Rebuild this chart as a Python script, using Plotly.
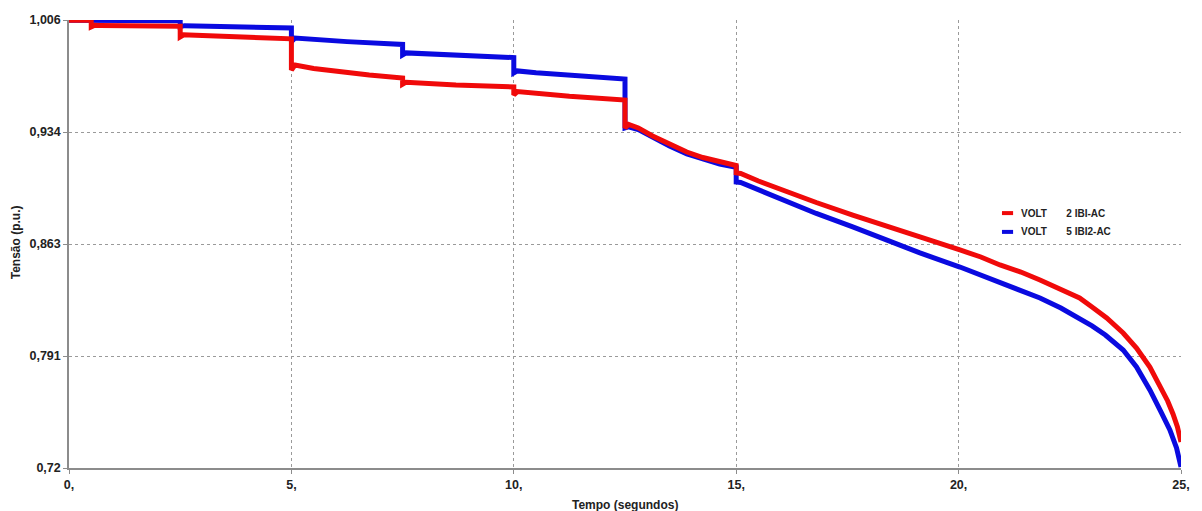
import plotly.graph_objects as go

# Voltage traces (p.u.) versus simulation time (s)
t_ibi = [0, 0.5, 0.5, 0.58, 0.7, 2.5, 2.5, 2.58, 2.7, 5.0, 5.0, 5.08, 5.5, 6.0, 6.75,
         7.5, 7.5, 7.58, 8.7, 10.0, 10.0, 10.08, 10.5, 11.25, 12.5, 12.5, 12.58, 12.8,
         13.12, 13.5, 13.89, 14.25, 14.63, 15.0, 15.0, 15.1, 15.5, 16.14, 16.8, 17.62,
         18.4, 19.13, 20.03, 20.5, 20.93, 21.4, 21.83, 22.3, 22.72, 23.0, 23.33, 23.7,
         24.0, 24.3, 24.53, 24.7, 24.82, 24.92, 25.0]
v_ibi = [1.0058, 1.0058, 1.0016, 1.0026, 1.0025, 1.0020, 0.9952, 0.9965, 0.9964,
         0.9940, 0.9741, 0.9773, 0.9750, 0.9731, 0.9709, 0.9690, 0.9650, 0.9663,
         0.9645, 0.9633, 0.9582, 0.9603, 0.9591, 0.9573, 0.9549, 0.9371, 0.9393,
         0.9371, 0.9320, 0.9265, 0.9217, 0.9182, 0.9153, 0.9131, 0.9084, 0.9080,
         0.9032, 0.8962, 0.8895, 0.8815, 0.8739, 0.8675, 0.8592, 0.8547, 0.8496,
         0.8451, 0.8400, 0.8343, 0.8285, 0.8228, 0.8158, 0.8062, 0.7966, 0.7845,
         0.7723, 0.7628, 0.7545, 0.7462, 0.7366]

t_ibi2 = [0, 2.5, 2.5, 2.6, 5.0, 5.0, 5.08, 5.5, 6.25, 7.5, 7.5, 7.58, 10.0, 10.0,
          10.08, 10.5, 11.25, 12.5, 12.5, 12.58, 12.8, 13.12, 13.5, 13.89, 14.25,
          14.63, 15.0, 15.0, 15.1, 15.5, 16.14, 16.8, 17.62, 18.4, 19.13, 20.03,
          20.5, 20.93, 21.4, 21.83, 22.3, 22.72, 23.0, 23.3, 23.7, 24.0, 24.3,
          24.55, 24.75, 24.9, 25.0]
v_ibi2 = [1.0058, 1.0055, 1.0018, 1.0024, 1.0009, 0.9922, 0.9945, 0.9936, 0.9922,
          0.9904, 0.9837, 0.9850, 0.9820, 0.9722, 0.9735, 0.9723, 0.9706, 0.9683,
          0.9371, 0.9378, 0.9360, 0.9310, 0.9255, 0.9205, 0.9170, 0.9141, 0.9120,
          0.9026, 0.9023, 0.8975, 0.8898, 0.8825, 0.8739, 0.8652, 0.8573, 0.8483,
          0.8432, 0.8381, 0.8333, 0.8285, 0.8221, 0.8157, 0.8107, 0.8049, 0.7953,
          0.7845, 0.7698, 0.7558, 0.7443, 0.7328, 0.7207]

x_ticks = [0, 5, 10, 15, 20, 25]
x_tick_text = ["0,", "5,", "10,", "15,", "20,", "25,"]
y_ticks = [0.72, 0.7915, 0.863, 0.9345, 1.006]
y_tick_text = ["0,72", "0,791", "0,863", "0,934", "1,006"]

series_names = ["VOLT\u00a0\u00a0\u00a0\u00a0\u00a0\u00a0\u00a02 IBI-AC",
                "VOLT\u00a0\u00a0\u00a0\u00a0\u00a0\u00a0\u00a05 IBI2-AC"]
RED = "#f00a0a"
BLUE = "#0a0ae0"
FONT = "Liberation Sans, Arial, sans-serif"

fig = go.Figure()
fig.add_trace(go.Scatter(x=t_ibi2, y=v_ibi2, mode="lines", name=series_names[1],
                         line=dict(color=BLUE, width=5), showlegend=False))
fig.add_trace(go.Scatter(x=t_ibi, y=v_ibi, mode="lines", name=series_names[0],
                         line=dict(color=RED, width=5), showlegend=False))

# compact legend block placed inside the plot area
legend_rows = [(series_names[0], RED, 0.569), (series_names[1], BLUE, 0.527)]
for label, color, yp in legend_rows:
    fig.add_shape(type="line", xref="paper", yref="paper",
                  x0=0.839, x1=0.849, y0=yp, y1=yp,
                  line=dict(color=color, width=4))
    fig.add_annotation(xref="paper", yref="paper", x=0.8545, y=yp,
                       xanchor="left", yanchor="middle", showarrow=False,
                       text="<b>" + label + "</b>",
                       font=dict(family=FONT, size=10, color="#222"))

fig.add_annotation(xref="paper", yref="paper", x=0.5, y=-0.083,
                   xanchor="center", yanchor="middle", showarrow=False,
                   text="<b>Tempo (segundos)</b>",
                   font=dict(family=FONT, size=12, color="#222"))
fig.add_annotation(xref="paper", yref="paper", x=-0.048, y=0.503,
                   xanchor="center", yanchor="middle", showarrow=False,
                   textangle=-90, text="<b>Tensão (p.u.)</b>",
                   font=dict(family=FONT, size=12, color="#222"))

axis_common = dict(showgrid=True, gridcolor="#9a9a9a", griddash="dot",
                   gridwidth=1, showline=True, linecolor="#8c8c8c", linewidth=1.5,
                   ticks="outside", ticklen=4, tickcolor="#8c8c8c", zeroline=False,
                   tickfont=dict(family=FONT, size=12.5, color="#222"))

fig.update_xaxes(range=[0, 25], tickvals=x_ticks,
                 ticktext=["<b>%s</b>" % s for s in x_tick_text], **axis_common)
fig.update_yaxes(range=[0.72, 1.006], tickvals=y_ticks,
                 ticktext=["<b>%s</b>" % s for s in y_tick_text], **axis_common)

fig.update_layout(width=1202, height=511, paper_bgcolor="white", plot_bgcolor="white",
                  margin=dict(l=69, r=21, t=20, b=43), showlegend=False)

fig.write_html("out.html")
